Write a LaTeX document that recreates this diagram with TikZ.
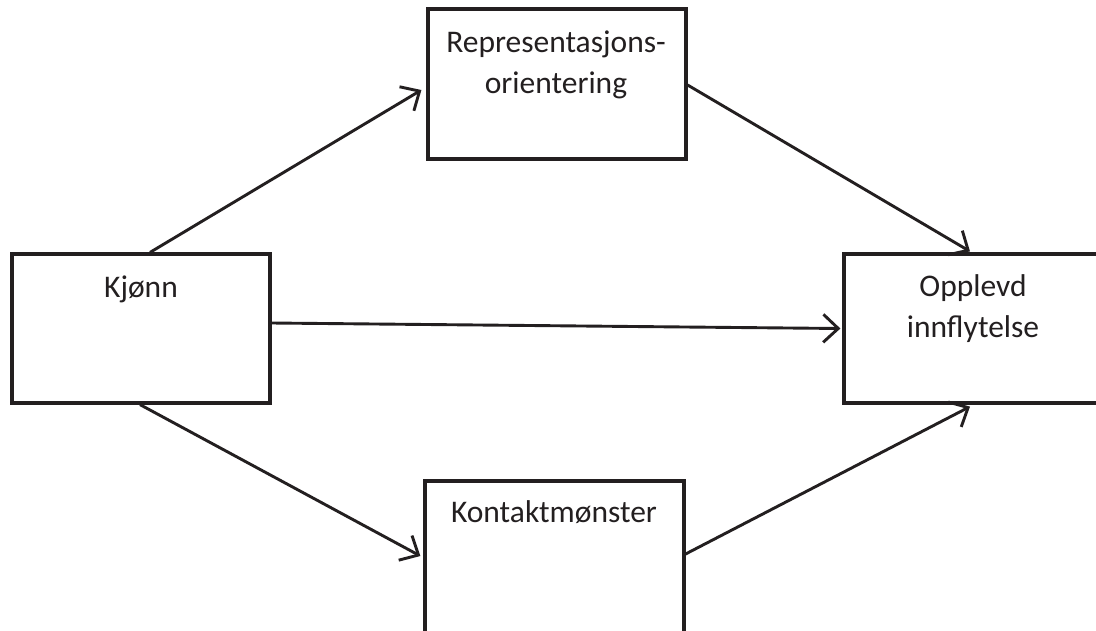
\documentclass[tikz,border=0pt]{standalone}
\usepackage{fontspec}
\setmainfont{Carlito}
\usetikzlibrary{arrows.meta}
\definecolor{ink}{HTML}{231F20}
\begin{document}
\begin{tikzpicture}[x=1pt,y=-1pt,
  box/.style={draw=ink, line width=3.2pt, rectangle, inner sep=0pt},
  lbl/.style={font=\fontsize{31.5}{41}\selectfont, text=ink, align=center, inner sep=0pt},
  arr/.style={draw=ink, line width=2.9pt, -{Straight Barb[length=15pt,width=28pt,line width=2.9pt]}}]
\useasboundingbox (0,0) rectangle (1096,630);
\clip (0,0) rectangle (1096,630);
\node[box, minimum width=258pt, minimum height=149pt] (kjonn) at (141,328.5) {};
\node[box, minimum width=258pt, minimum height=150pt] (rep) at (557,84) {};
\node[box, minimum width=258pt, minimum height=149pt] (opp) at (973,328.5) {};
\node[box, minimum width=259pt, minimum height=159pt] (kont) at (554.5,560.5) {};
\node[lbl, anchor=base] (tk) at (141,297) {Kjønn};
\node[lbl, anchor=base] (tr) at (556,93) {Representasjons-\\orientering};
\node[lbl, anchor=base] (to) at (973,337) {Opplevd\\innflytelse};
\node[lbl, anchor=base] (tc) at (554,522) {Kontaktmønster};
\draw[arr] ([xshift=9pt]kjonn.north) -- ([xshift=-5pt,yshift=-6pt]rep.west);
\draw[arr] ([yshift=-1pt]rep.east) -- ([xshift=-3pt,yshift=1pt]opp.north);
\draw[arr] ([yshift=5.5pt]kjonn.east) -- ([xshift=-2pt]opp.west);
\draw[arr] ([xshift=-1pt]kjonn.south) -- ([xshift=-3pt,yshift=4.5pt]kont.west);
\draw[arr] ([yshift=6.5pt]kont.east) -- ([xshift=-3pt,yshift=-2pt]opp.south);
\end{tikzpicture}
\end{document}
